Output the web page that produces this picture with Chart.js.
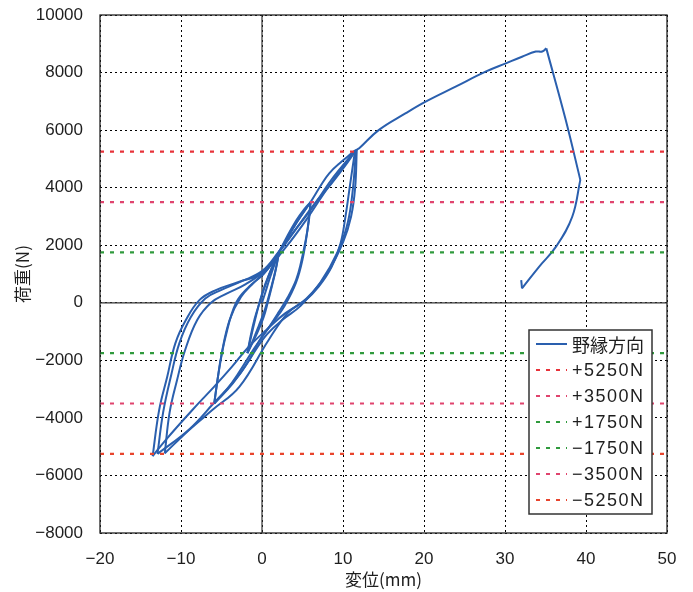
<!DOCTYPE html>
<html>
<head>
<meta charset="utf-8">
<script src="https://cdn.jsdelivr.net/npm/chart.js@4.4.1/dist/chart.umd.min.js"></script>
<style>
  html, body { margin: 0; padding: 0; background: #fff; }
</style>
</head>
<body>
<canvas id="c" width="693" height="592"></canvas>
<script>
// load–displacement hysteresis: ±1750, ±3500, ±5250 cycles, then push to failure

const seriesLabel = '野縁方向';

// displacement (mm) and load (N), in loading order
const dispX = [
  0, 0.4, 0.9, 1.5, 2.1,
  1.7, 1.2, 0.7, 0.2, -0.6, -1.8,
  -1.4, -0.9, -0.3, 0.4, 1.2, 2.1,
  1.6, 1.0, 0.4, -0.4, -1.1, -1.8,
  -1.2, -0.6, 0.1, 0.9, 2.1,
  3.0, 4.2, 5.2, 6.0,
  5.8, 5.4, 4.8, 4.2, 3.2, 2.0, 0.5, -1.0, -2.8, -4.3, -5.9,
  -5.3, -4.5, -3.2, -1.6, 0.2, 1.5, 2.8, 4.3, 6.0,
  5.6, 5.0, 4.2, 2.8, 1.3, -0.3, -1.6, -3.6, -5.9,
  -5.5, -5.0, -4.0, -2.6, -1.0, 0.8, 2.5, 4.3, 6.0,
  7.2, 8.3, 9.8, 11.1, 11.5,
  10.9, 10.3, 9.7, 8.6, 7.0, 5.4, 2.9, 0.5, -1.8, -3.7, -5.9, -8.6, -11.9, -13.5,
  -12.7, -11.7, -10.7, -9.4, -7.7, -5.7, -2.8, 0.0, 2.1, 4.3, 6.5, 8.6, 10.5, 11.6,
  11.2, 10.6, 9.4, 7.2, 4.8, 2.5, 0.3, -2.8, -6.0, -9.0, -12.9,
  -12.2, -11.2, -10.2, -8.8, -7.0, -5.0, -2.5, 0.0, 2.0, 4.0, 6.2, 8.5, 10.8, 11.7,
  11.5, 11.0, 10.0, 8.0, 5.5, 3.2, 0.8, -2.8, -6.1, -9.0, -12.0,
  -11.4, -10.5, -9.5, -8.0, -6.3, -4.5, -2.0, 0.5, 3.0, 5.5, 8.0, 10.2, 11.6,
  12.0, 14.4, 17.7, 20.2, 23.9, 27.6, 30.1, 32.1, 33.8, 34.6, 35.1,
  37.5, 39.3, 38.3, 36.3, 34.2, 32.1, 32.0
];
const loadY = [
  0, 350, 800, 1300, 1750,
  1150, 550, 0, -500, -1050, -1750,
  -1150, -550, 0, 600, 1200, 1750,
  1050, 400, -200, -800, -1300, -1750,
  -1000, -300, 400, 1000, 1750,
  2250, 2850, 3250, 3500,
  2880, 2180, 1380, 790, 200, -350, -1000, -1600, -2400, -3000, -3500,
  -2330, -1180, 0, 560, 1000, 1500, 2100, 2800, 3500,
  2500, 1500, 700, -100, -700, -1300, -2000, -2800, -3500,
  -2700, -1800, -600, 200, 700, 1200, 1950, 2800, 3500,
  4050, 4500, 4900, 5200, 5300,
  4160, 2990, 2070, 1250, 560, 100, -360, -950, -1580, -2220, -2915, -3725, -4770, -5330,
  -3730, -2570, -1410, -600, 100, 440, 730, 1030, 1750, 2600, 3450, 4150, 4850, 5300,
  3900, 2800, 1800, 700, -100, -600, -1200, -2500, -3500, -4400, -5250,
  -3800, -2500, -1400, -500, 150, 450, 750, 1100, 1750, 2500, 3300, 4250, 5050, 5320,
  4000, 3000, 2100, 1000, 150, -350, -1300, -2920, -3720, -4420, -5230,
  -3800, -2700, -1650, -600, 0, 300, 650, 1150, 1950, 2900, 3950, 4800, 5300,
  5370, 6000, 6580, 6990, 7510, 8030, 8320, 8550, 8730, 8730, 8840,
  6350, 4270, 2990, 1950, 1250, 500, 790
];

// constant-load reference lines
const refLevels = [5250, 3500, 1750, -1750, -3500, -5250];
const refLabels = ['+5250N', '+3500N', '+1750N', '−1750N', '−3500N', '−5250N'];
const refColours = ['#e8323a', '#e0446e', '#2f9a3c', '#2f9a3c', '#e0446e', '#e8452e'];

const xMin = -20, xMax = 50, xStep = 10;
const yMin = -8000, yMax = 10000, yStep = 2000;

const TICK_FONT = { family: '"Liberation Sans", Arial, sans-serif', size: 17 };
const CJK_FONT = { family: '"Noto Sans CJK JP", sans-serif', size: 17 };
const INK = '#1e1e1e';
const CURVE = '#2a5fae';
const minus = v => String(v).replace('-', '−');

// split the path at every reversal so the peaks stay sharp while branches are smoothed
function branches(xs, ys) {
  const out = [];
  let cur = [{ x: xs[0], y: ys[0] }];
  for (let i = 1; i < xs.length; i++) {
    cur.push({ x: xs[i], y: ys[i] });
    if (i < xs.length - 1) {
      const dy = (ys[i] - ys[i - 1]) * (ys[i + 1] - ys[i]);
      const dx = (xs[i] - xs[i - 1]) * (xs[i + 1] - xs[i]);
      if (dy < 0 || dx < 0) {
        out.push(cur);
        cur = [{ x: xs[i], y: ys[i] }];
      }
    }
  }
  out.push(cur);
  return out;
}

const datasets = [];
refLevels.forEach((lv, i) => {
  datasets.push({
    label: refLabels[i],
    data: [{ x: xMin, y: lv }, { x: xMax, y: lv }],
    borderColor: refColours[i],
    borderWidth: 2.2,
    borderDash: [4, 6],
    pointRadius: 0,
  });
});
branches(dispX, loadY).forEach((pts, i) => {
  datasets.push({
    label: seriesLabel,
    data: pts,
    borderColor: CURVE,
    borderWidth: 2,
    pointRadius: 0,
    tension: 0.4,
    hideInLegend: i > 0,
  });
});

// frame round the plot + solid zero axes
const framePlugin = {
  id: 'frame',
  beforeDatasetsDraw(chart) {
    const { ctx, chartArea: a, scales } = chart;
    const x0 = scales.x.getPixelForValue(0);
    const y0 = scales.y.getPixelForValue(0);
    ctx.save();
    ctx.strokeStyle = '#333';
    ctx.lineWidth = 1.2;
    ctx.beginPath();
    ctx.moveTo(x0, a.top); ctx.lineTo(x0, a.bottom);
    ctx.moveTo(a.left, y0); ctx.lineTo(a.right, y0);
    ctx.stroke();
    ctx.restore();
  },
  afterDraw(chart) {
    const { ctx, chartArea: a } = chart;
    ctx.save();
    ctx.strokeStyle = '#222';
    ctx.lineWidth = 1.3;
    ctx.strokeRect(a.left, a.top, a.right - a.left, a.bottom - a.top);
    ctx.restore();
  },
};

// legend box inside the lower-right of the plot
const boxLegend = {
  id: 'boxLegend',
  afterDraw(chart) {
    const { ctx, chartArea: a } = chart;
    const items = chart.data.datasets.filter(d => !d.hideInLegend);
    // series first, reference lines after
    items.sort((p, q) => (q.label === seriesLabel) - (p.label === seriesLabel));
    const w = 123, rowH = 26, h = 184;
    const left = a.right - 15 - w, top = a.bottom - 19 - h;
    ctx.save();
    ctx.fillStyle = '#fff';
    ctx.fillRect(left, top, w, h);
    ctx.strokeStyle = '#333';
    ctx.lineWidth = 1.5;
    ctx.strokeRect(left, top, w, h);
    ctx.textBaseline = 'middle';
    items.forEach((ds, i) => {
      const cy = top + 14 + i * rowH;
      ctx.strokeStyle = ds.borderColor;
      ctx.lineWidth = ds.borderWidth;
      ctx.setLineDash(ds.borderDash || []);
      ctx.beginPath();
      ctx.moveTo(left + 7, cy);
      ctx.lineTo(left + 38, cy);
      ctx.stroke();
      ctx.setLineDash([]);
      ctx.fillStyle = INK;
      if (i === 0) {
        ctx.font = '18px "Noto Sans CJK JP", sans-serif';
        ctx.letterSpacing = '0px';
      } else {
        ctx.font = '18px "Liberation Sans", Arial, sans-serif';
        ctx.letterSpacing = '1.5px';
      }
      ctx.fillText(ds.label, left + 43, cy + 1);
    });
    ctx.restore();
  },
};

new Chart(document.getElementById('c'), {
  type: 'line',
  data: { datasets },
  plugins: [framePlugin, boxLegend],
  options: {
    responsive: false,
    animation: false,
    layout: { padding: { left: 8, right: 26, top: 15, bottom: 0 } },
    plugins: { legend: { display: false }, tooltip: { enabled: false } },
    scales: {
      x: {
        type: 'linear',
        min: xMin, max: xMax,
        ticks: { stepSize: xStep, color: INK, font: TICK_FONT, padding: 16, callback: minus, maxRotation: 0 },
        grid: { color: '#000', lineWidth: 1, drawTicks: false },
        border: { display: false, dash: [2, 3] },
        title: { display: true, text: '変位(mm)', color: INK, font: CJK_FONT, padding: { top: 0, bottom: 2 } },
        afterFit: s => { s.height = 59; s.paddingLeft = 0; s.paddingRight = 0; },
      },
      y: {
        type: 'linear',
        min: yMin, max: yMax,
        ticks: { stepSize: yStep, color: INK, font: TICK_FONT, padding: 17, callback: minus },
        grid: { color: '#000', lineWidth: 1, drawTicks: false },
        border: { display: false, dash: [2, 3] },
        title: { display: true, text: '荷重(N)', color: INK, font: CJK_FONT, padding: { top: 4, bottom: 0 } },
        afterFit: s => { s.width = 92; s.paddingTop = 0; s.paddingBottom = 0; },
      },
    },
  },
});
</script>
</body>
</html>
